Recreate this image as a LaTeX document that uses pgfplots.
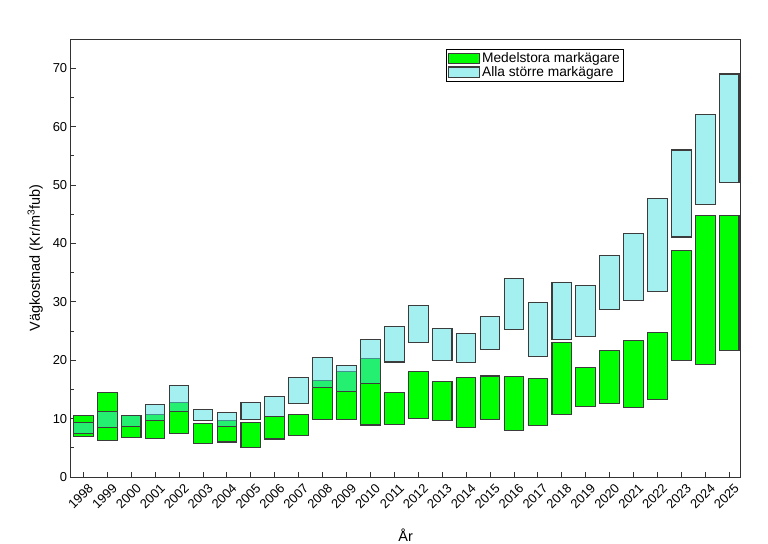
\documentclass[border=0pt]{standalone}
\usepackage{fontspec}
\setmainfont{Liberation Sans}
\usepackage{pgfplots}
\usepackage{pgfplotstable}
\pgfplotsset{compat=1.18}
\definecolor{bargreen}{RGB}{0,255,0}
\definecolor{barcyan}{RGB}{75,225,225}
\definecolor{edge}{RGB}{60,60,60}

\pgfplotstableread{
year lo_g hi_g lo_c hi_c
1998 6.9 10.6 7.5 9.4
1999 6.2 14.5 8.5 11.2
2000 6.8 10.6 8.6 10.5
2001 6.6 10.7 9.7 12.4
2002 7.5 12.8 11.2 15.7
2003 5.8 9.1 9.7 11.6
2004 6.0 9.6 8.7 11.1
2005 5.0 9.3 9.9 12.7
2006 6.5 10.4 10.3 13.8
2007 7.1 10.7 12.6 17.0
2008 9.9 16.6 15.4 20.5
2009 9.9 18.0 14.7 19.1
2010 8.9 20.3 16.0 23.5
2011 9.0 14.5 19.7 25.7
2012 10.0 18.0 23.0 29.3
2013 9.7 16.3 19.9 25.4
2014 8.4 17.0 19.6 24.5
2015 9.8 17.3 21.9 27.5
2016 8.0 17.2 25.2 34.0
2017 8.8 16.9 20.6 29.9
2018 10.7 23.1 23.6 33.3
2019 12.0 18.8 24.0 32.8
2020 12.6 21.7 28.7 38.0
2021 11.9 23.3 30.2 41.7
2022 13.3 24.7 31.8 47.7
2023 20.0 38.8 41.1 56.0
2024 19.2 44.8 46.7 62.0
2025 21.7 44.8 50.5 69.0
}\data

\pgfplotsset{
  common/.style={
    at={(70.7bp,67bp)}, anchor=south west,
    scale only axis, width=670bp, height=438bp,
    xmin=1997.47, xmax=2025.48, ymin=0, ymax=75,
    ybar stacked, bar width=0.82,
  },
}

\begin{document}
\begin{tikzpicture}
\useasboundingbox[fill=white] (0,0) rectangle (768bp,544bp);
\begin{axis}[
  common,
  axis line style={draw=black!80, line width=0.9bp},
  tick style={draw=black!80, line width=0.8bp},
  tick align=inside, tick pos=left,
  major tick length=5bp, minor tick length=3bp,
  xtick={1998,...,2025},
  ytick={0,10,...,70}, minor y tick num=1,
  /pgf/number format/assume math mode=true,
  x tick label style={rotate=45, anchor=north east, font=\fontsize{13}{15}\selectfont,
    /pgf/number format/1000 sep={}, inner sep=1pt, yshift=-6bp},
  y tick label style={font=\fontsize{13}{15}\selectfont},
  xlabel={År}, ylabel={Vägkostnad (Kr/m\textsuperscript{3}fub)},
  xlabel style={font=\fontsize{14.5}{16}\selectfont, at={(axis description cs:0.5,-0.132)}, anchor=center},
  ylabel style={font=\fontsize{14.5}{16}\selectfont, at={(axis description cs:-0.053,0.5)}, anchor=center},
]
\addplot[draw=none, fill=none] table[x=year, y=lo_g] {\data};
\addplot[fill=bargreen, draw=edge, line width=1.1bp]
  table[x=year, y expr=\thisrow{hi_g}-\thisrow{lo_g}] {\data};
\end{axis}
\begin{axis}[
  common, hide axis,
  legend style={at={(0.5605,0.977)}, anchor=north west, draw=black, line width=0.6bp,
    font=\fontsize{13.8}{14}\selectfont, inner sep=1.5bp, row sep=-1.5bp,
    cells={anchor=west}},
  legend image code/.code={\draw[#1] (0bp,-5bp) rectangle (31bp,5.5bp);},
]
\addlegendimage{fill=bargreen, draw=edge, line width=1.1bp}
\addlegendentry{Medelstora markägare}
\addplot[draw=none, fill=none, forget plot] table[x=year, y=lo_c] {\data};
\addplot[fill=barcyan, fill opacity=0.5, draw=edge, draw opacity=1, line width=1.1bp]
  table[x=year, y expr=\thisrow{hi_c}-\thisrow{lo_c}] {\data};
\addlegendentry{Alla större markägare}
\end{axis}
\end{tikzpicture}
\end{document}
